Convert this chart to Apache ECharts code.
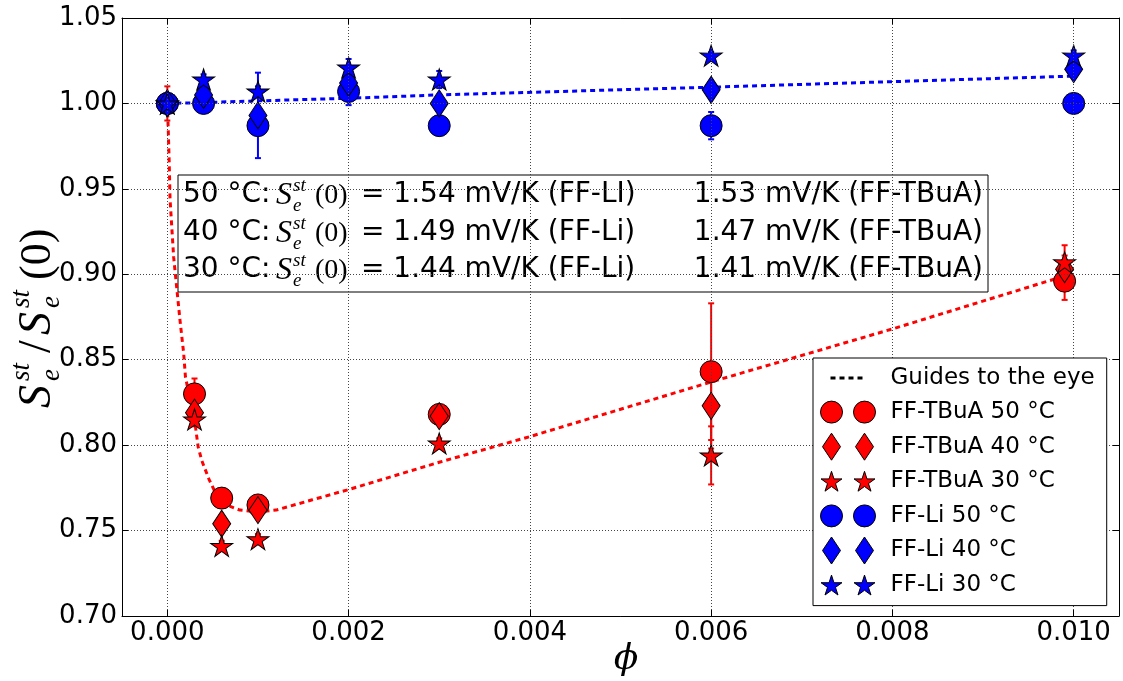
<!DOCTYPE html>
<html><head><meta charset="utf-8">
<script src="https://cdn.jsdelivr.net/npm/echarts@6/dist/echarts.min.js"></script>
<style>html,body{margin:0;padding:0;background:#fff}#c{width:1123px;height:681px}</style>
</head><body><div id="c"></div><script>
// ---- data ----
const xTicks = [0, 0.002, 0.004, 0.006, 0.008, 0.010];
const yTicks = [0.70, 0.75, 0.80, 0.85, 0.90, 0.95, 1.00, 1.05];

const phiTBuA = [0, 0.0003, 0.0006, 0.001, 0.003, 0.006, 0.0099];
const tbua50 = [1.000, 0.830, 0.769, 0.765, 0.818, 0.843, 0.896];
const tbua50Err = [0.010, 0.009, 0.003, 0.003, 0.003, 0.040, 0.011];
const tbua40 = [1.000, 0.819, 0.754, 0.762, 0.817, 0.823, 0.903];
const tbua40Err = [0.005, 0.004, 0.003, 0.003, 0.003, 0.025, 0.008];
const tbua30 = [1.000, 0.815, 0.741, 0.745, 0.801, 0.794, 0.907];
const tbua30Err = [0.005, 0.004, 0.003, 0.003, 0.003, 0.017, 0.010];

const phiLi = [0, 0.0004, 0.001, 0.002, 0.003, 0.006, 0.010];
const li50 = [1.000, 1.000, 0.987, 1.007, 0.987, 0.987, 1.000];
const li50Err = [0.003, 0.003, 0.003, 0.008, 0.003, 0.008, 0.003];
const li40 = [1.000, 1.005, 0.993, 1.012, 1.000, 1.008, 1.020];
const li40Err = [0.003, 0.003, 0.025, 0.005, 0.003, 0.004, 0.004];
const li30 = [1.000, 1.014, 1.007, 1.021, 1.014, 1.028, 1.028];
const li30Err = [0.003, 0.003, 0.003, 0.005, 0.005, 0.002, 0.003];

const guideTBuAX = [0, 0.00001, 0.00002, 0.00003, 0.00007, 0.00014, 0.00018, 0.0002, 0.00031, 0.00034, 0.00038, 0.00046, 0.00055, 0.0007, 0.0008, 0.001, 0.0012, 0.0016, 0.002, 0.003, 0.004, 0.006, 0.008, 0.0099];
const guideTBuAY = [1.0, 0.985, 0.967, 0.944, 0.910, 0.873, 0.854, 0.840, 0.811, 0.799, 0.791, 0.780, 0.770, 0.764, 0.762, 0.761, 0.762, 0.768, 0.774, 0.790, 0.805, 0.837, 0.868, 0.899];
const guideLiX = [0, 0.0004, 0.001, 0.002, 0.003, 0.006, 0.010];
const guideLiY = [1.0, 1.0005, 1.0015, 1.003, 1.005, 1.0095, 1.016];

const seriesNames = ['FF-TBuA 50 °C', 'FF-TBuA 40 °C', 'FF-TBuA 30 °C', 'FF-Li 50 °C', 'FF-Li 40 °C', 'FF-Li 30 °C'];
const guideName = 'Guides to the eye';
const boxTemps = ['50 °C:', '40 °C:', '30 °C:'];
const boxLi = ['= 1.54 mV/K (FF-LI)', '= 1.49 mV/K (FF-Li)', '= 1.44 mV/K (FF-Li)'];
const boxTBuA = ['1.53 mV/K (FF-TBuA)', '1.47 mV/K (FF-TBuA)', '1.41 mV/K (FF-TBuA)'];

// ---- shapes ----
function starPts(cx, cy, R) {
  const r = R * 0.38; let s = '';
  for (let k = 0; k < 10; k++) {
    const a = (-90 + k * 36) * Math.PI / 180, rr = k % 2 ? r : R;
    s += (k ? 'L' : 'M') + (cx + rr * Math.cos(a)).toFixed(2) + ',' + (cy + rr * Math.sin(a)).toFixed(2) + ' ';
  }
  return s + 'Z ';
}
function circ(cx, cy, r) { return `M${cx - r},${cy} A${r},${r} 0 1,0 ${cx + r},${cy} A${r},${r} 0 1,0 ${cx - r},${cy} Z `; }
function diam(cx, cy, w, h) { return `M${cx},${cy - h / 2} L${cx + w / 2},${cy} L${cx},${cy + h / 2} L${cx - w / 2},${cy} Z `; }
const IW = 65, IH = 28;
const bounds = `M0,0 M${IW},${IH} `;
const starSym = 'path://' + starPts(50, 50, 50);
const icons = {
  circle: 'path://' + bounds + circ(11, 14, 11) + circ(44, 14, 11),
  diamond: 'path://' + bounds + diam(11, 14, 18, 27) + diam(44, 14, 18, 27),
  star: 'path://' + bounds + starPts(11, 15, 11) + starPts(44, 15, 11),
  guide: 'path://' + bounds + 'M10,12.5 h5 v3 h-5 Z M19,12.5 h5 v3 h-5 Z M28,12.5 h5 v3 h-5 Z M37,12.5 h5 v3 h-5 Z'
};

const RED = '#ff0000', BLUE = '#0000ff';
const markerDefs = [
  { name: seriesNames[0], x: phiTBuA, y: tbua50, e: tbua50Err, c: RED, sym: 'circle', size: 22, icon: icons.circle },
  { name: seriesNames[1], x: phiTBuA, y: tbua40, e: tbua40Err, c: RED, sym: 'diamond', size: [18, 27], icon: icons.diamond },
  { name: seriesNames[2], x: phiTBuA, y: tbua30, e: tbua30Err, c: RED, sym: starSym, size: [22, 21], icon: icons.star },
  { name: seriesNames[3], x: phiLi, y: li50, e: li50Err, c: BLUE, sym: 'circle', size: 22, icon: icons.circle },
  { name: seriesNames[4], x: phiLi, y: li40, e: li40Err, c: BLUE, sym: 'diamond', size: [18, 27], icon: icons.diamond },
  { name: seriesNames[5], x: phiLi, y: li30, e: li30Err, c: BLUE, sym: starSym, size: [22, 21], icon: icons.star }
];

const series = [];
series.push({
  name: guideName, type: 'line', data: guideTBuAX.map((x, i) => [x, guideTBuAY[i]]),
  showSymbol: false, symbol: 'none', smooth: false, z: 1,
  itemStyle: { color: '#000' }, lineStyle: { color: RED, width: 3, type: [5, 4] }, silent: true
});
series.push({
  name: 'guideLi', type: 'line', data: guideLiX.map((x, i) => [x, guideLiY[i]]),
  showSymbol: false, symbol: 'none', z: 1,
  lineStyle: { color: BLUE, width: 3, type: [5, 4] }, silent: true
});
markerDefs.forEach(d => {
  series.push({
    name: d.name + ' err', type: 'custom', z: 2, silent: true,
    data: d.x.map((x, i) => [x, d.y[i] - d.e[i], d.y[i] + d.e[i]]),
    encode: { x: 0, y: [1, 2] },
    renderItem: (params, api) => {
      const top = api.coord([api.value(0), api.value(2)]);
      const bot = api.coord([api.value(0), api.value(1)]);
      const st = { stroke: d.c, lineWidth: 2 };
      return { type: 'group', children: [
        { type: 'line', shape: { x1: top[0], y1: top[1], x2: bot[0], y2: bot[1] }, style: st },
        { type: 'line', shape: { x1: top[0] - 3, y1: top[1], x2: top[0] + 3, y2: top[1] }, style: st },
        { type: 'line', shape: { x1: bot[0] - 3, y1: bot[1], x2: bot[0] + 3, y2: bot[1] }, style: st }
      ] };
    }
  });
});
markerDefs.forEach(d => {
  series.push({
    name: d.name, type: 'scatter', z: 3, symbol: d.sym, symbolSize: d.size,
    data: d.x.map((x, i) => [x, d.y[i]]),
    itemStyle: { color: d.c, borderColor: '#000', borderWidth: 1, opacity: 1 },
    emphasis: { disabled: true }
  });
});

const legendData = [{ name: guideName, icon: icons.guide, itemStyle: { color: '#000', borderWidth: 0 } }]
  .concat(markerDefs.map(d => ({ name: d.name, icon: d.icon, itemStyle: { color: d.c, borderColor: '#000', borderWidth: 1 } })));

const FONT = 'DejaVu Sans';
const axisCommon = { min: -0.0005, max: 0.0105 };

// ---- graphic text ----
const serif = '"Liberation Serif", "DejaVu Serif", serif';
function mathS(x, cy, big, small, dy1, dy2, dx) {
  return [
    { type: 'text', x: x, y: cy, style: { text: 'S', font: `italic ${big}px ${serif}`, fill: '#000', verticalAlign: 'middle' } },
    { type: 'text', x: x + dx, y: cy + dy1, style: { text: 'st', font: `italic ${small}px ${serif}`, fill: '#000', verticalAlign: 'middle' } },
    { type: 'text', x: x + dx, y: cy + dy2, style: { text: 'e', font: `italic ${small}px ${serif}`, fill: '#000', verticalAlign: 'middle' } }
  ];
}
const BF = 28;
const boxChildren = [{ type: 'rect', shape: { x: 178, y: 175, width: 810, height: 117 }, style: { fill: '#fff', stroke: '#000', lineWidth: 1 } }];
boxTemps.forEach((t, r) => {
  const cy = 195 + 37.5 * r;
  boxChildren.push({ type: 'text', x: 183, y: cy, style: { text: t, font: `${BF}px "${FONT}"`, fill: '#000', verticalAlign: 'middle' } });
  mathS(276, cy + 1, 32, 19, -10, 10, 17).forEach(e => boxChildren.push(e));
  boxChildren.push({ type: 'text', x: 315, y: cy + 1, style: { text: '(0)', font: `${BF}px ${serif}`, fill: '#000', verticalAlign: 'middle' } });
  boxChildren.push({ type: 'text', x: 361, y: cy, style: { text: boxLi[r], font: `${BF}px "${FONT}"`, fill: '#000', verticalAlign: 'middle' } });
  boxChildren.push({ type: 'text', x: 983, y: cy, style: { text: boxTBuA[r], font: `${BF}px "${FONT}"`, fill: '#000', verticalAlign: 'middle', align: 'right', textAlign: 'right' } });
});
const yTitle = [].concat(
  mathS(0, 0, 46, 27, -16, 14, 27),
  [{ type: 'text', x: 55, y: 0, style: { text: '/', font: `46px ${serif}`, fill: '#000', verticalAlign: 'middle' } }],
  mathS(73, 0, 46, 27, -16, 14, 27),
  [{ type: 'text', x: 128, y: 0, style: { text: '(0)', font: `44px ${serif}`, fill: '#000', verticalAlign: 'middle' } }]
);

const chart = echarts.init(document.getElementById('c'), null, { renderer: 'canvas' });
chart.setOption({
  animation: false,
  backgroundColor: '#fff',
  grid: { left: 122, right: 4, top: 18, bottom: 65, containLabel: false },
  xAxis: [
    Object.assign({ type: 'value', position: 'bottom', z: 5,
      axisLine: { show: true, lineStyle: { color: '#000', width: 1 } },
      axisTick: { show: true, inside: true, length: 6, customValues: xTicks, lineStyle: { color: '#000' } },
      axisLabel: { show: true, customValues: xTicks, formatter: v => v.toFixed(3), fontFamily: FONT, fontSize: 26, color: '#000', margin: 4 },
      splitLine: { show: true, lineStyle: { color: '#444', type: [1, 2], width: 1 } } }, axisCommon),
    Object.assign({ type: 'value', position: 'top', z: 5,
      axisLine: { show: true, onZero: false, lineStyle: { color: '#000', width: 1 } },
      axisTick: { show: true, inside: true, length: 6, customValues: xTicks, lineStyle: { color: '#000' } },
      axisLabel: { show: false }, splitLine: { show: false } }, axisCommon)
  ],
  yAxis: [
    { type: 'value', min: 0.70, max: 1.05, interval: 0.05, position: 'left', z: 5,
      axisLine: { show: true, onZero: false, lineStyle: { color: '#000', width: 1 } },
      axisTick: { show: true, inside: true, length: 6, lineStyle: { color: '#000' } },
      axisLabel: { formatter: v => v.toFixed(2), fontFamily: FONT, fontSize: 26, color: '#000', margin: 5 },
      splitLine: { show: true, lineStyle: { color: '#444', type: [1, 2], width: 1 } } },
    { type: 'value', min: 0.70, max: 1.05, interval: 0.05, position: 'right', z: 5,
      axisLine: { show: true, onZero: false, lineStyle: { color: '#000', width: 1 } },
      axisTick: { show: true, inside: true, length: 6, lineStyle: { color: '#000' } },
      axisLabel: { show: false }, splitLine: { show: false } }
  ],
  legend: {
    orient: 'vertical', left: 813, top: 358, padding: [6, 12, 6, 7],
    itemWidth: IW, itemHeight: IH, itemGap: 5.6, selectedMode: false, z: 20,
    backgroundColor: '#fff', borderColor: '#000', borderWidth: 1, borderRadius: 0,
    textStyle: { fontFamily: FONT, fontSize: 23, color: '#000' },
    data: legendData
  },
  graphic: [
    { type: 'group', z: 20, children: boxChildren },
    { type: 'group', z: 20, x: 38, y: 408, rotation: Math.PI / 2, children: yTitle },
    { type: 'text', z: 20, x: 626, y: 660, style: { text: 'ϕ', font: `italic 36px "DejaVu Serif", serif`, fill: '#000', align: 'center', textAlign: 'center', verticalAlign: 'middle' } }
  ],
  series: series
});
</script></body></html>
